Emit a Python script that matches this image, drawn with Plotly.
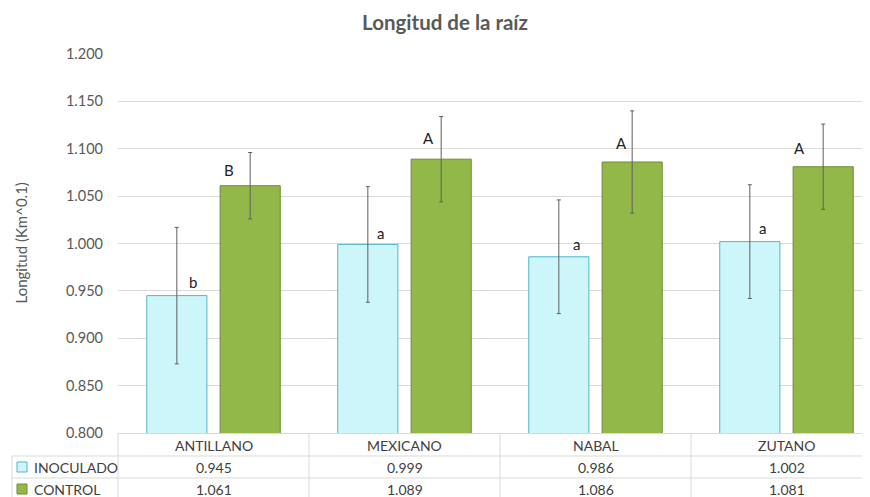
import plotly.graph_objects as go

# --- data ---
categories = ["ANTILLANO", "MEXICANO", "NABAL", "ZUTANO"]
series_names = ["INOCULADO", "CONTROL"]
inoculado = [0.945, 0.999, 0.986, 1.002]
control = [1.061, 1.089, 1.086, 1.081]
inoculado_err = [0.072, 0.061, 0.060, 0.060]
control_err = [0.035, 0.045, 0.054, 0.045]
inoculado_letters = ["b", "a", "a", "a"]
control_letters = ["B", "A", "A", "A"]
y_ticks = [0.80, 0.85, 0.90, 0.95, 1.00, 1.05, 1.10, 1.15, 1.20]

# --- layout constants (pixels) ---
OFF = 8  # the page body margin shifts the figure by 8px
W, H = 870 - OFF, 497 - OFF
ML, MR, MT, MB = 118 - OFF, 0, 54 - OFF, 64
PW, PH = W - ML - MR, H - MT - MB
CAT_PX = 191.0  # width of one category slot
x_range = [-0.5, -0.5 + PW / CAT_PX]
BARGAP = 0.232
BAR_OFF = (1 - BARGAP) / 4  # centre offset of each bar inside its group

FONT = "Lato"
GRID = "#d9d9d9"
TXT = "#595959"
TABLE_TXT = "#404040"

inoc_fill, inoc_line = "#cdf6fb", "#55b3c8"
ctrl_fill, ctrl_line = "#93b84a", "#6f8a3a"


def px_x(px):
    # page x pixel -> paper x
    return (px - OFF - ML) / PW


def px_y(px):
    # page y pixel -> paper y
    return (H - MB - (px - OFF)) / PH


fig = go.Figure()
fig.add_trace(go.Bar(
    x=list(range(len(categories))), y=inoculado, name=series_names[0],
    marker=dict(color=inoc_fill, line=dict(color=inoc_line, width=1)),
    error_y=dict(type="data", array=inoculado_err, color="#5f5f5f", thickness=1, width=2),
))
fig.add_trace(go.Bar(
    x=list(range(len(categories))), y=control, name=series_names[1],
    marker=dict(color=ctrl_fill, line=dict(color=ctrl_line, width=1)),
    error_y=dict(type="data", array=control_err, color="#5f5f5f", thickness=1, width=2),
))

# significance letters (pixel nudges)
inoc_dx, inoc_dy = [16, 13, 18, 13], [14, 11, 13, 14]
ctrl_dx, ctrl_dy = [-21, -13, -11, -24], [16, 21, 19, 19]
ann = []
for i in range(len(categories)):
    ann.append(dict(x=i - BAR_OFF, y=inoculado[i], xref="x", yref="y", text=inoculado_letters[i],
                    showarrow=False, xshift=inoc_dx[i], yshift=inoc_dy[i],
                    font=dict(family=FONT, size=15, color="#222222")))
    ann.append(dict(x=i + BAR_OFF, y=control[i], xref="x", yref="y", text=control_letters[i],
                    showarrow=False, xshift=ctrl_dx[i], yshift=ctrl_dy[i],
                    font=dict(family=FONT, size=15, color="#222222")))

# --- data table below the plot ---
row_centre = [-12, -34, -56]  # header, inoculado, control (px below axis)
for i, cat in enumerate(categories):
    ann.append(dict(x=i, y=0, xref="x", yref="paper", text=cat, showarrow=False,
                    yanchor="middle", yshift=row_centre[0],
                    font=dict(family=FONT, size=14, color=TABLE_TXT)))
    ann.append(dict(x=i, y=0, xref="x", yref="paper", text=f"{inoculado[i]:.3f}", showarrow=False,
                    yanchor="middle", yshift=row_centre[1],
                    font=dict(family=FONT, size=14, color=TABLE_TXT)))
    ann.append(dict(x=i, y=0, xref="x", yref="paper", text=f"{control[i]:.3f}", showarrow=False,
                    yanchor="middle", yshift=row_centre[2],
                    font=dict(family=FONT, size=14, color=TABLE_TXT)))

for k, name in enumerate(series_names):
    ann.append(dict(x=px_x(32), y=0, xref="paper", yref="paper", text=name, showarrow=False,
                    xanchor="left", yanchor="middle", yshift=row_centre[k + 1],
                    font=dict(family=FONT, size=14, color=TABLE_TXT)))

# y axis title
ann.append(dict(x=px_x(20), y=0.5, xref="paper", yref="paper", text="Longitud (Km^0.1)",
                textangle=-90, showarrow=False, xanchor="center", yanchor="middle",
                font=dict(family=FONT, size=15, color=TXT)))

shapes = []
# horizontal table rules
for ypx in [456, 478, 500]:
    shapes.append(dict(type="line", xref="paper", yref="paper", x0=px_x(12), x1=1,
                       y0=px_y(ypx), y1=px_y(ypx), line=dict(color=GRID, width=1)))
# vertical table rules
shapes.append(dict(type="line", xref="paper", yref="paper", x0=px_x(12), x1=px_x(12),
                   y0=px_y(456), y1=px_y(500), line=dict(color=GRID, width=1)))
shapes.append(dict(type="line", xref="paper", yref="paper", x0=0, x1=0,
                   y0=0, y1=px_y(500), line=dict(color=GRID, width=1)))
for b in [0.5, 1.5, 2.5]:
    shapes.append(dict(type="line", xref="x", yref="paper", x0=b, x1=b,
                       y0=0, y1=px_y(500), line=dict(color=GRID, width=1)))
# legend keys in the table
for k, (fc, lc) in enumerate([(inoc_fill, inoc_line), (ctrl_fill, ctrl_line)]):
    yc = 467 + 22 * k
    shapes.append(dict(type="rect", xref="paper", yref="paper",
                       x0=px_x(17), x1=px_x(27), y0=px_y(yc - 5), y1=px_y(yc + 5),
                       fillcolor=fc, line=dict(color=lc, width=1)))

fig.update_layout(
    width=W, height=H,
    margin=dict(l=ML, r=MR, t=MT, b=MB, pad=0),
    paper_bgcolor="white", plot_bgcolor="white",
    barmode="group", bargap=BARGAP, bargroupgap=0.18,
    showlegend=False,
    title=dict(text="<b>Longitud de la raíz</b>", xref="container", yref="container",
               x=(445 - OFF) / W, y=1 - (23 - OFF) / H, xanchor="center", yanchor="middle",
               font=dict(family=FONT, size=20.5, color=TXT)),
    xaxis=dict(range=x_range, showticklabels=False, showgrid=False, zeroline=False,
               showline=True, linecolor=GRID, linewidth=1, ticks=""),
    yaxis=dict(range=[0.8, 1.2], tickvals=y_ticks, tickformat=".3f", showgrid=True,
               gridcolor=GRID, gridwidth=1, zeroline=False, showline=False, ticks="",
               ticklabelstandoff=14,
               tickfont=dict(family=FONT, size=14.5, color=TXT)),
    annotations=ann, shapes=shapes,
    font=dict(family=FONT),
)

fig.write_html("out.html")
